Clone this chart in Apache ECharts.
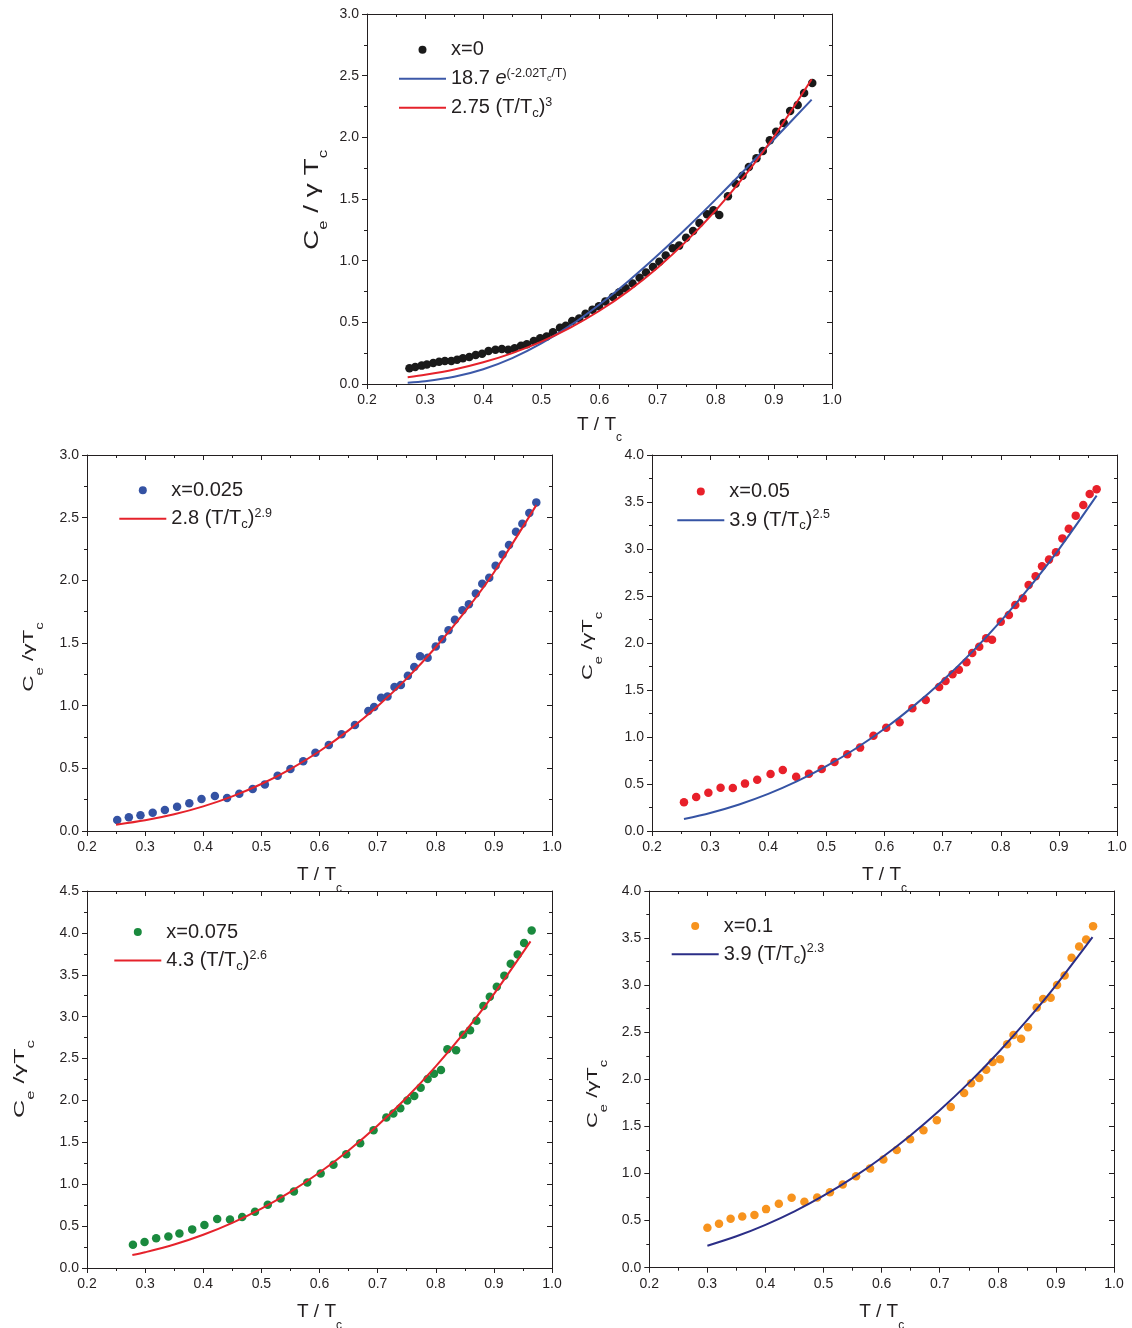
<!DOCTYPE html>
<html><head><meta charset="utf-8">
<script src="https://cdn.jsdelivr.net/npm/echarts@6/dist/echarts.min.js"></script>
<style>html,body{margin:0;padding:0;background:#fff}#c{width:1132px;height:1328px}</style>
</head><body><div id="c"></div>
<script>
// ---------------- DATA ----------------
// x = 0
const x0_T = [0.273,0.283,0.294,0.303,0.314,0.324,0.334,0.345,0.355,0.365,0.376,0.387,0.398,0.409,0.421,0.432,0.443,0.454,0.465,0.475,0.487,0.498,0.509,0.520,0.532,0.542,0.553,0.565,0.576,0.588,0.599,0.610,0.623,0.634,0.645,0.657,0.669,0.680,0.692,0.703,0.714,0.726,0.737,0.749,0.761,0.772,0.785,0.796,0.806,0.821,0.834,0.846,0.857,0.870,0.881,0.893,0.904,0.917,0.928,0.941,0.952,0.966];
const x0_C = [0.127,0.138,0.149,0.159,0.170,0.181,0.186,0.186,0.197,0.208,0.219,0.235,0.246,0.268,0.278,0.284,0.278,0.289,0.311,0.322,0.349,0.370,0.386,0.419,0.457,0.473,0.511,0.532,0.570,0.603,0.630,0.668,0.705,0.743,0.776,0.814,0.862,0.905,0.949,0.992,1.041,1.100,1.122,1.186,1.241,1.305,1.376,1.408,1.370,1.522,1.624,1.689,1.759,1.830,1.889,1.976,2.046,2.116,2.214,2.262,2.359,2.441];
const fit0_T = [0.27,0.30,0.35,0.40,0.45,0.50,0.55,0.60,0.65,0.70,0.75,0.80,0.85,0.90,0.965];
const fitExp0_C = [0.0105,0.0223,0.0583,0.1198,0.2101,0.3291,0.4751,0.6452,0.836,1.0438,1.2651,1.4971,1.7368,1.982,2.3054];
const fitPow0_C = [0.0541,0.0743,0.1179,0.176,0.2506,0.3438,0.4575,0.594,0.7552,0.9433,1.1602,1.408,1.6888,2.0048,2.4712];

// x = 0.025
const x025_T = [0.252,0.272,0.292,0.313,0.334,0.355,0.376,0.397,0.420,0.441,0.462,0.485,0.506,0.528,0.550,0.572,0.593,0.616,0.638,0.661,0.684,0.694,0.706,0.717,0.729,0.740,0.752,0.763,0.773,0.786,0.800,0.811,0.822,0.833,0.846,0.857,0.869,0.880,0.892,0.903,0.915,0.926,0.938,0.949,0.961,0.973];
const x025_C = [0.088,0.109,0.125,0.146,0.168,0.194,0.221,0.255,0.279,0.263,0.298,0.335,0.372,0.441,0.495,0.556,0.625,0.686,0.771,0.846,0.957,0.989,1.064,1.074,1.149,1.165,1.239,1.309,1.395,1.383,1.473,1.529,1.601,1.685,1.761,1.809,1.894,1.973,2.021,2.117,2.207,2.282,2.388,2.452,2.537,2.622];
const fit025_T = [0.25,0.30,0.35,0.40,0.45,0.50,0.55,0.60,0.65,0.70,0.75,0.80,0.85,0.90,0.973];
const fit025_C = [0.0503,0.0853,0.1333,0.1964,0.2764,0.3751,0.4945,0.6365,0.8028,0.9953,1.2157,1.466,1.7478,2.0627,2.600];

// x = 0.05
const x05_T = [0.255,0.276,0.297,0.318,0.339,0.360,0.381,0.404,0.425,0.448,0.470,0.492,0.514,0.536,0.558,0.581,0.603,0.626,0.648,0.671,0.694,0.705,0.717,0.728,0.741,0.751,0.763,0.775,0.785,0.800,0.814,0.825,0.838,0.848,0.860,0.871,0.883,0.895,0.906,0.917,0.929,0.942,0.953,0.965];
const x05_C = [0.305,0.362,0.408,0.461,0.457,0.504,0.546,0.606,0.649,0.578,0.610,0.660,0.734,0.816,0.887,1.014,1.099,1.156,1.305,1.394,1.532,1.596,1.667,1.716,1.794,1.894,1.961,2.050,2.035,2.227,2.298,2.404,2.475,2.617,2.709,2.816,2.887,2.965,3.113,3.216,3.355,3.468,3.585,3.635];
const fit05_T = [0.255,0.30,0.35,0.40,0.45,0.50,0.55,0.60,0.65,0.70,0.75,0.80,0.85,0.90,0.965];
const fit05_C = [0.1281,0.1923,0.2827,0.3946,0.5298,0.6894,0.8749,1.0875,1.3285,1.5988,1.8998,2.2325,2.5978,2.9969,3.5676];

// x = 0.075
const x075_T = [0.279,0.299,0.319,0.340,0.359,0.381,0.402,0.424,0.446,0.467,0.489,0.511,0.533,0.556,0.579,0.602,0.624,0.646,0.670,0.693,0.715,0.727,0.739,0.751,0.763,0.774,0.786,0.797,0.809,0.820,0.835,0.847,0.859,0.870,0.882,0.893,0.905,0.918,0.929,0.941,0.952,0.965];
const x075_C = [0.278,0.310,0.354,0.377,0.413,0.461,0.513,0.584,0.580,0.608,0.671,0.755,0.830,0.914,1.021,1.128,1.232,1.359,1.490,1.645,1.796,1.843,1.907,1.998,2.054,2.153,2.257,2.320,2.364,2.610,2.598,2.785,2.837,2.952,3.127,3.238,3.357,3.488,3.631,3.743,3.878,4.029];
const fit075_T = [0.278,0.30,0.35,0.40,0.45,0.50,0.55,0.60,0.65,0.70,0.75,0.80,0.85,0.90,0.963];
const fit075_C = [0.1541,0.1879,0.2806,0.397,0.5392,0.7092,0.9087,1.1395,1.403,1.7011,2.0354,2.4072,2.8181,3.2696,3.8985];

// x = 0.1
const x10_T = [0.300,0.320,0.340,0.360,0.381,0.401,0.423,0.445,0.467,0.489,0.511,0.533,0.556,0.580,0.603,0.626,0.649,0.672,0.695,0.719,0.742,0.754,0.768,0.780,0.791,0.804,0.816,0.827,0.840,0.852,0.867,0.878,0.891,0.902,0.915,0.927,0.940,0.952,0.964];
const x10_C = [0.424,0.467,0.520,0.544,0.559,0.622,0.679,0.742,0.700,0.746,0.802,0.884,0.972,1.053,1.149,1.251,1.364,1.460,1.566,1.707,1.856,1.958,2.015,2.103,2.185,2.213,2.372,2.471,2.432,2.552,2.764,2.853,2.867,3.001,3.104,3.291,3.411,3.485,3.627];
const fit10_T = [0.30,0.35,0.40,0.45,0.50,0.55,0.60,0.65,0.70,0.75,0.80,0.85,0.90,0.963];
const fit10_C = [0.2332,0.3336,0.4551,0.5984,0.7645,0.9542,1.1682,1.4071,1.6717,1.9625,2.2803,2.6255,2.9987,3.51];

// axis ranges / ticks
const xMin = 0.2, xMax = 1.0, xStep = 0.1;
const yMaxes = [3.0, 3.0, 4.0, 4.5, 4.0];
const yStep = 0.5;

// legend labels (rich text)
const LABELS = {
  'x=0': '{t|x=0}',
  'exp0': '{t|18.7 }{i|e}{sup|(-2.02T}{ssub|c}{sup|/T)}',
  'pow0': '{t|2.75 (T/T}{sub|c}{t|)}{sup|3}',
  'x=0.025': '{t|x=0.025}',
  'pow025': '{t|2.8 (T/T}{sub|c}{t|)}{sup|2.9}',
  'x=0.05': '{t|x=0.05}',
  'pow05': '{t|3.9 (T/T}{sub|c}{t|)}{sup|2.5}',
  'x=0.075': '{t|x=0.075}',
  'pow075': '{t|4.3 (T/T}{sub|c}{t|)}{sup|2.6}',
  'x=0.1': '{t|x=0.1}',
  'pow10': '{t|3.9 (T/T}{sub|c}{t|)}{sup|2.3}'
};

// ---------------- STYLE / LAYOUT ----------------
const FONT = '"Liberation Sans", Arial, Helvetica, sans-serif';
const INK = '#231f20';
const LINE_ICON = 'path://M0,0H47V2H0Z';
const pairs = (xs, ys) => xs.map((x, i) => [x, ys[i]]);

const panels = [
  { grid:{left:367, top:14, width:465, height:370}, yMax:yMaxes[0],
    sc:{name:'x=0', T:x0_T, C:x0_C, color:'#1a1a1a'},
    fits:[{name:'exp0', T:fit0_T, C:fitExp0_C, color:'#3c58a8'}, {name:'pow0', T:fit0_T, C:fitPow0_C, color:'#e5222b'}],
    legend:{left:399, top:37.8, gap:5}, xGap:31,
    yt:{x:315.7, y:200, scale:1.4, big:true, text:'{m|C}{s|e}{m| / γ T}{s|c}'} },
  { grid:{left:87, top:455, width:465, height:376}, yMax:yMaxes[1],
    sc:{name:'x=0.025', T:x025_T, C:x025_C, color:'#3452a3'},
    fits:[{name:'pow025', T:fit025_T, C:fit025_C, color:'#e5222b'}],
    legend:{left:119.3, top:478.3, gap:4.5}, xGap:34.5,
    yt:{x:33.6, y:657, scale:1.5, big:false, text:'{m|C}{s|e}{m| /γT}{s|c}'} },
  { grid:{left:652, top:455, width:465, height:376}, yMax:yMaxes[2],
    sc:{name:'x=0.05', T:x05_T, C:x05_C, color:'#e8202a'},
    fits:[{name:'pow05', T:fit05_T, C:fit05_C, color:'#3553a4'}],
    legend:{left:677.3, top:479.6, gap:4.7}, xGap:34.5,
    yt:{x:592.6, y:646, scale:1.47, big:false, text:'{m|C}{s|e}{m| /γT}{s|c}'} },
  { grid:{left:87, top:891, width:465, height:377}, yMax:yMaxes[3],
    sc:{name:'x=0.075', T:x075_T, C:x075_C, color:'#1a8a3e'},
    fits:[{name:'pow075', T:fit075_T, C:fit075_C, color:'#e5222b'}],
    legend:{left:114.3, top:920, gap:4.6}, xGap:34.5,
    yt:{x:24.6, y:1079, scale:1.68, big:false, text:'{m|C}{s|e}{m| /γT}{s|c}'} },
  { grid:{left:649.3, top:891, width:464.7, height:376.7}, yMax:yMaxes[4],
    sc:{name:'x=0.1', T:x10_T, C:x10_C, color:'#f7931e'},
    fits:[{name:'pow10', T:fit10_T, C:fit10_C, color:'#2b2e87'}],
    legend:{left:671.7, top:914, gap:4.3}, xGap:34.5,
    yt:{x:597.6, y:1094, scale:1.47, big:false, text:'{m|C}{s|e}{m| /γT}{s|c}'} }
];

const tickLine = {color: INK, width: 1};
const grids = [], xAxes = [], yAxes = [], series = [], legends = [], graphics = [];

panels.forEach((p, i) => {
  grids.push(Object.assign({outerBoundsMode:'none', containLabel:false}, p.grid));
  const xCommon = {gridIndex:i, type:'value', min:xMin, max:xMax, interval:xStep,
    splitLine:{show:false}, axisLine:{show:true, onZero:false, lineStyle:tickLine}};
  xAxes.push(Object.assign({}, xCommon, {
    position:'bottom',
    axisTick:{show:true, inside:false, length:5, lineStyle:tickLine},
    minorTick:{show:true, splitNumber:2, length:3, lineStyle:tickLine},
    axisLabel:{show:true, margin:9, fontSize:14, fontFamily:FONT, color:INK, formatter:v=>v.toFixed(1)},
    name:'{m|T / T}{s|c}', nameLocation:'middle', nameGap:p.xGap, nameMoveOverlap:false,
    nameTextStyle:{fontFamily:FONT, fontSize:19, color:INK,
      rich:{m:{fontFamily:FONT, fontSize:19, lineHeight:19, verticalAlign:'top', color:INK},
            s:{fontFamily:FONT, fontSize:12, padding:[17,0,0,0], color:INK}}}
  }));
  xAxes.push(Object.assign({}, xCommon, {
    position:'top', axisLabel:{show:false},
    axisTick:{show:true, inside:true, length:5, lineStyle:tickLine},
    minorTick:{show:true, splitNumber:2, length:3, lineStyle:tickLine}
  }));
  const yCommon = {gridIndex:i, type:'value', min:0, max:p.yMax, interval:yStep,
    splitLine:{show:false}, axisLine:{show:true, onZero:false, lineStyle:tickLine}};
  yAxes.push(Object.assign({}, yCommon, {
    position:'left',
    axisTick:{show:true, inside:false, length:5, lineStyle:tickLine},
    minorTick:{show:true, splitNumber:2, length:3, lineStyle:tickLine},
    axisLabel:{show:true, margin:8, fontSize:14, fontFamily:FONT, color:INK, formatter:v=>v.toFixed(1)}
  }));
  yAxes.push(Object.assign({}, yCommon, {
    position:'right', axisLabel:{show:false},
    axisTick:{show:true, inside:true, length:5, lineStyle:tickLine},
    minorTick:{show:true, splitNumber:2, length:3, lineStyle:tickLine}
  }));

  series.push({type:'scatter', name:p.sc.name, xAxisIndex:2*i, yAxisIndex:2*i,
    data:pairs(p.sc.T, p.sc.C), symbol:'circle', symbolSize:8.5,
    itemStyle:{color:p.sc.color, opacity:1}, z:2, silent:true});
  p.fits.forEach(f => {
    series.push({type:'line', name:f.name, xAxisIndex:2*i, yAxisIndex:2*i,
      data:pairs(f.T, f.C), smooth:0.3, symbol:'none', showSymbol:false,
      color:f.color, lineStyle:{color:f.color, width:2}, itemStyle:{color:f.color}, z:3, silent:true});
  });

  legends.push({
    orient:'vertical', left:p.legend.left, top:p.legend.top, padding:0,
    itemWidth:47, itemHeight:8, itemGap:p.legend.gap, selectedMode:false,
    symbolKeepAspect:true,
    data:[{name:p.sc.name, icon:'circle', itemStyle:{color:p.sc.color}}]
      .concat(p.fits.map(f => ({name:f.name, icon:LINE_ICON, itemStyle:{color:f.color}}))),
    formatter: name => LABELS[name],
    textStyle:{fontFamily:FONT, fontSize:20, color:INK, lineHeight:24,
      rich:{
        t:{fontFamily:FONT, fontSize:20, lineHeight:24, color:INK},
        i:{fontFamily:FONT, fontSize:20, lineHeight:24, fontStyle:'italic', color:INK},
        sup:{fontFamily:FONT, fontSize:12.5, verticalAlign:'top', color:INK},
        ssub:{fontFamily:FONT, fontSize:9, verticalAlign:'top', padding:[7,0,0,0], color:INK},
        sub:{fontFamily:FONT, fontSize:13, verticalAlign:'bottom', color:INK}
      }}
  });

  const big = p.yt.big;
  graphics.push({
    type:'text', x:p.yt.x, y:p.yt.y, rotation:Math.PI/2, scaleX:p.yt.scale, scaleY:1, silent:true,
    style:{text:p.yt.text, align:'center', verticalAlign:'middle', fill:INK, fontFamily:FONT,
      fontSize: big ? 20 : 15,
      rich:{
        m:{fontFamily:FONT, fontSize: big ? 20 : 15, lineHeight: big ? 20 : 15, verticalAlign:'top', fill:INK},
        s:{fontFamily:FONT, fontSize: big ? 12 : 10, padding:[big ? 15 : 13.5, 0, 0, 0], fill:INK}
      }}
  });
});

const chart = echarts.init(document.getElementById('c'), null, {renderer:'canvas'});
chart.setOption({
  animation:false,
  backgroundColor:'#ffffff',
  grid:grids, xAxis:xAxes, yAxis:yAxes, series:series, legend:legends, graphic:graphics
});
</script>
</body></html>
